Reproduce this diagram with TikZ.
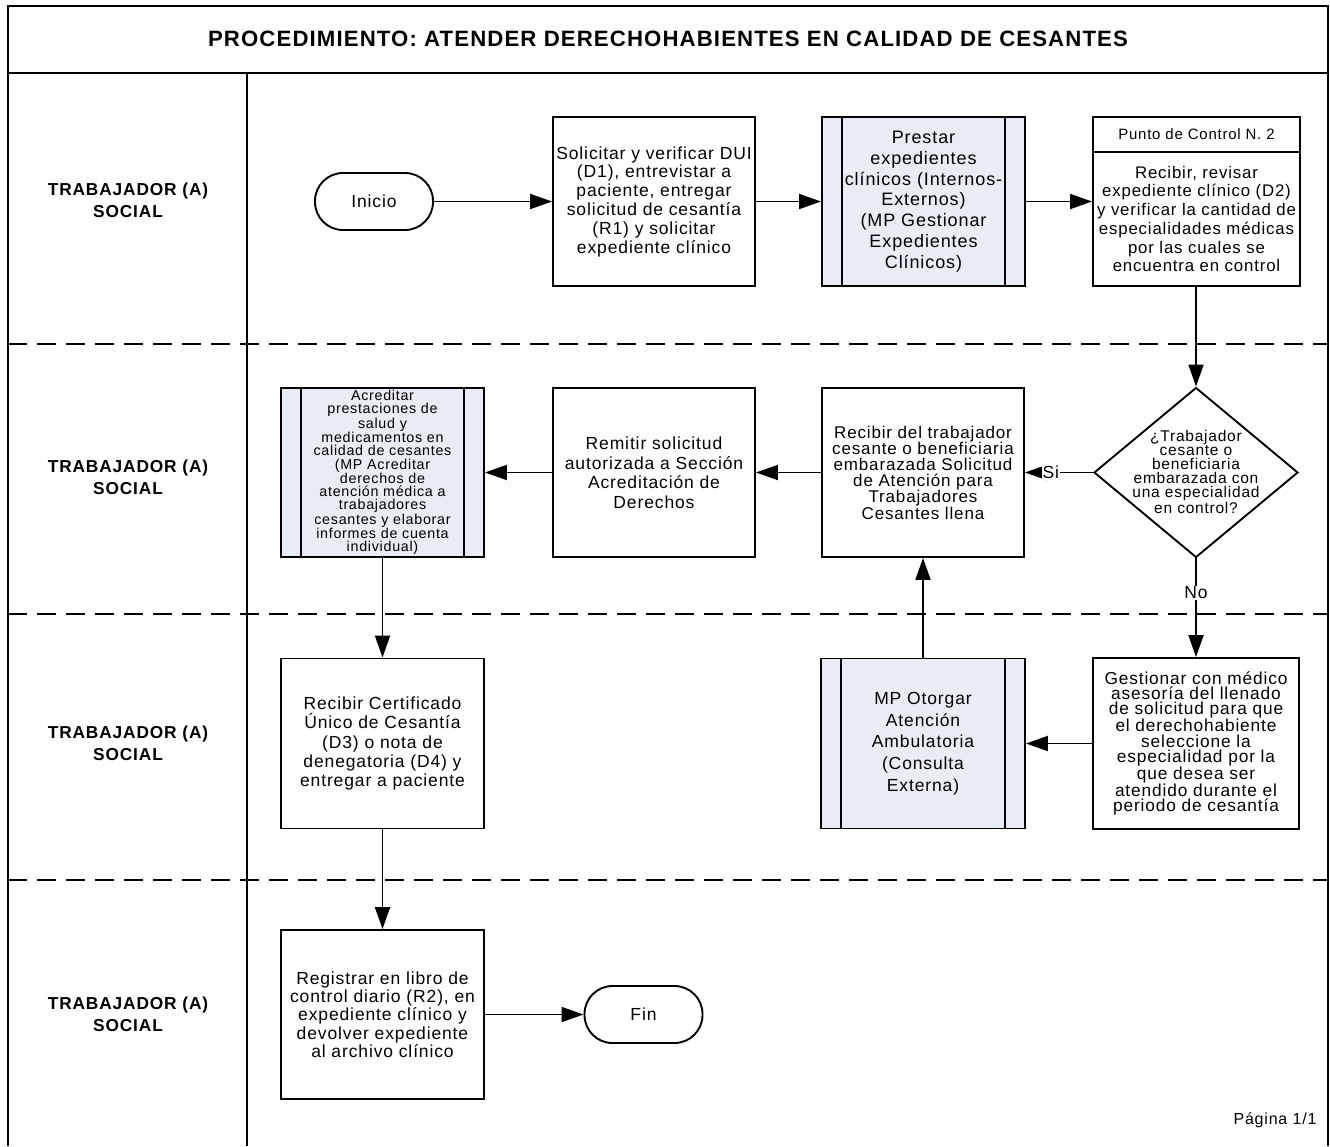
\documentclass[tikz,border=0pt]{standalone}
\usepackage{fontspec}
\setmainfont{Liberation Sans}[LetterSpace=5]
\usetikzlibrary{arrows.meta,shapes.geometric,calc}
\definecolor{pfill}{RGB}{232,236,244}
\newcommand\myfs[2]{\fontsize{#1}{#2}\selectfont}
\begin{document}
\begin{tikzpicture}[x=1pt,y=-1pt,
  line width=1.9pt,
  box/.style={draw, rectangle, inner sep=0pt, align=center, minimum width=203pt, minimum height=169pt},
  pbox/.style={box, fill=pfill},
  term/.style={draw, rectangle, rounded corners=28pt, minimum width=118pt, minimum height=57pt, inner sep=0pt, font=\myfs{17.5}{19}},
  arr/.style={-{Triangle[length=22pt,width=15pt]}},
  lane/.style={font=\bfseries\myfs{17.3}{22}, align=center},
  sep/.style={dash pattern=on 19pt off 10pt},
  lbl/.style={fill=white, inner sep=1pt, font=\myfs{17.5}{19}}]
\useasboundingbox (0,0) rectangle (1330,1146);
% frame
\draw (8,1146) -- (8,6) -- (1328,6) -- (1328,1146);
\draw (8,73) -- (1328,73);
\draw (247,73) -- (247,1146);
\draw[sep] (8,344) -- (1328,344);
\draw[sep] (8,614) -- (1328,614);
\draw[sep] (8,880) -- (1328,880);
\node[font=\bfseries\myfs{22.2}{24}] (title) at (668,39) {PROCEDIMIENTO: ATENDER DERECHOHABIENTES EN CALIDAD DE CESANTES};
\node[lane] (l1) at (128,200) {TRABAJADOR (A)\\SOCIAL};
\node[lane] (l2) at (128,477.5) {TRABAJADOR (A)\\SOCIAL};
\node[lane] (l3) at (128,743) {TRABAJADOR (A)\\SOCIAL};
\node[lane] (l4) at (128,1014) {TRABAJADOR (A)\\SOCIAL};
\node[font=\myfs{16}{18}] (pg) at (1275,1120) {Página 1/1};
% row 1
\node[term] (ini) at (374,201.5) {Inicio};
\node[box, minimum width=202pt, font=\myfs{17.5}{18.8}] (s1) at (654,201.5) {Solicitar y verificar DUI\\(D1), entrevistar a\\paciente, entregar\\solicitud de cesantía\\(R1) y solicitar\\expediente clínico};
\node[pbox, font=\myfs{18}{20.8}] (p1) at (923.5,201.5) {Prestar\\expedientes\\clínicos (Internos-\\Externos)\\(MP Gestionar\\Expedientes\\Clínicos)};
\node[box, minimum width=207pt] (pc) at (1196.5,201.5) {};
\coordinate (hy) at (0,152);
\draw (pc.west |- hy) -- (pc.east |- hy);
\node[font=\myfs{15}{16}] (pch) at (1196.5,134.5) {Punto de Control N. 2};
\node[align=center, font=\myfs{16.8}{18.7}] (pcb) at (1196.5,219) {Recibir, revisar\\expediente clínico (D2)\\y verificar la cantidad de\\especialidades médicas\\por las cuales se\\encuentra en control};
% row 2
\node[draw, diamond, minimum width=204pt, minimum height=170pt, inner sep=0pt] (dec) at (1196,472.5) {};
\node[align=center, font=\myfs{15.5}{14}] (dect) at (1196,472) {¿Trabajador\\cesante o\\beneficiaria\\embarazada con\\una especialidad\\en control?};
\node[box, minimum width=202pt, font=\myfs{17}{16.2}] (rt) at (923,472.5) {Recibir del trabajador\\cesante o beneficiaria\\embarazada Solicitud\\de Atención para\\Trabajadores\\Cesantes llena};
\node[box, minimum width=202pt, font=\myfs{17.5}{19.5}] (rm) at (654,472.5) {Remitir solicitud\\autorizada a Sección\\Acreditación de\\Derechos};
\node[pbox, font=\myfs{14.3}{13.2}] (ac) at (382.5,472.5) {Acreditar\\prestaciones de\\salud y\\medicamentos en\\calidad de cesantes\\(MP Acreditar\\derechos de\\atención médica a\\trabajadores\\cesantes y elaborar\\informes de cuenta\\individual)};
% row 3
\node[box, minimum width=206pt, minimum height=171pt, font=\myfs{17.3}{15.2}] (gs) at (1196,743.5) {Gestionar con médico\\asesoría del llenado\\de solicitud para que\\el derechohabiente\\seleccione la\\especialidad por la\\que desea ser\\atendido durante el\\periodo de cesantía};
\node[pbox, minimum width=204pt, minimum height=170pt, font=\myfs{17.5}{21.7}] (mp) at (923,743.5) {MP Otorgar\\Atención\\Ambulatoria\\(Consulta\\Externa)};
\node[box, minimum height=170pt, font=\myfs{17.5}{19.3}] (rc) at (382.5,743.5) {Recibir Certificado\\Único de Cesantía\\(D3) o nota de\\denegatoria (D4) y\\entregar a paciente};
% row 4
\node[box, font=\myfs{17.5}{18.3}] (rg) at (382.5,1014.5) {Registrar en libro de\\control diario (R2), en\\expediente clínico y\\devolver expediente\\al archivo clínico};
\node[term] (fin) at (643.5,1014.5) {Fin};
% inner lines of predefined processes
\foreach \n in {p1,ac,mp} {
  \draw ($(\n.north west)+(21,0)$) -- ($(\n.south west)+(21,0)$);
  \draw ($(\n.north east)+(-21,0)$) -- ($(\n.south east)+(-21,0)$);
}
% connectors
\draw[arr] (ini.east) -- (s1.west);
\draw[arr] (s1.east) -- (p1.west);
\draw[arr] (p1.east) -- (pc.west);
\draw[arr] (pc.south -| dec.north) -- (dec.north);
\draw[arr] (dec.west) -- node[lbl, pos=0.62] (si) {Si} (rt.east);
\draw[arr] (rt.west) -- (rm.east);
\draw[arr] (rm.west) -- (ac.east);
\draw[arr] (dec.south) -- node[lbl, pos=0.35] (no) {No} (gs.north);
\draw[arr] (gs.west) -- (mp.east);
\draw[arr] (mp.north) -- (rt.south);
\draw[arr] (ac.south) -- (rc.north);
\draw[arr] (rc.south) -- (rg.north);
\draw[arr] (rg.east) -- (fin.west);
\end{tikzpicture}
\end{document}
